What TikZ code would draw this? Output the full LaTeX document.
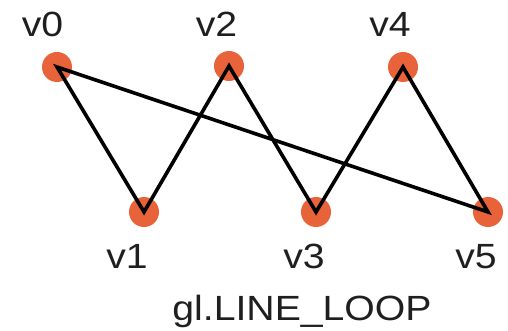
\documentclass[tikz,border=0pt]{standalone}
\usepackage{fontspec}
\usepackage{graphicx}
\setmainfont{Liberation Sans}
\definecolor{dotc}{HTML}{E8623A}
\newcommand{\wtxt}[1]{\scalebox{1.12}[1]{#1}}
\begin{document}
\begin{tikzpicture}[x=1pt,y=-1pt,
  vdot/.style={circle,fill=dotc,inner sep=0pt,minimum size=30pt},
  lbl/.style={font=\fontsize{35}{38}\selectfont,inner sep=0pt,text=black!88,anchor=base},
  edge/.style={line width=3.6pt,black,line join=miter}]
\useasboundingbox (0,0) rectangle (508,331);
\node[vdot] (v0) at (57,67) {};
\node[vdot] (v1) at (144,212) {};
\node[vdot] (v2) at (229,66) {};
\node[vdot] (v3) at (316,212) {};
\node[vdot] (v4) at (403,67) {};
\node[vdot] (v5) at (488,212) {};
\node[lbl] (l0) at (42.5,37) {\wtxt{v0}};
\node[lbl] (l2) at (216.5,37) {\wtxt{v2}};
\node[lbl] (l4) at (390,37) {\wtxt{v4}};
\node[lbl] (l1) at (127,268) {\wtxt{v1}};
\node[lbl] (l3) at (304,268) {\wtxt{v3}};
\node[lbl] (l5) at (476,268) {\wtxt{v5}};
\node[lbl] (cap) at (302,320) {\wtxt{gl.LINE\_LOOP}};
\draw[edge] (v0.center) -- (v1.center) -- (v2.center) -- (v3.center) -- (v4.center) -- (v5.center) -- cycle;
\end{tikzpicture}
\end{document}
